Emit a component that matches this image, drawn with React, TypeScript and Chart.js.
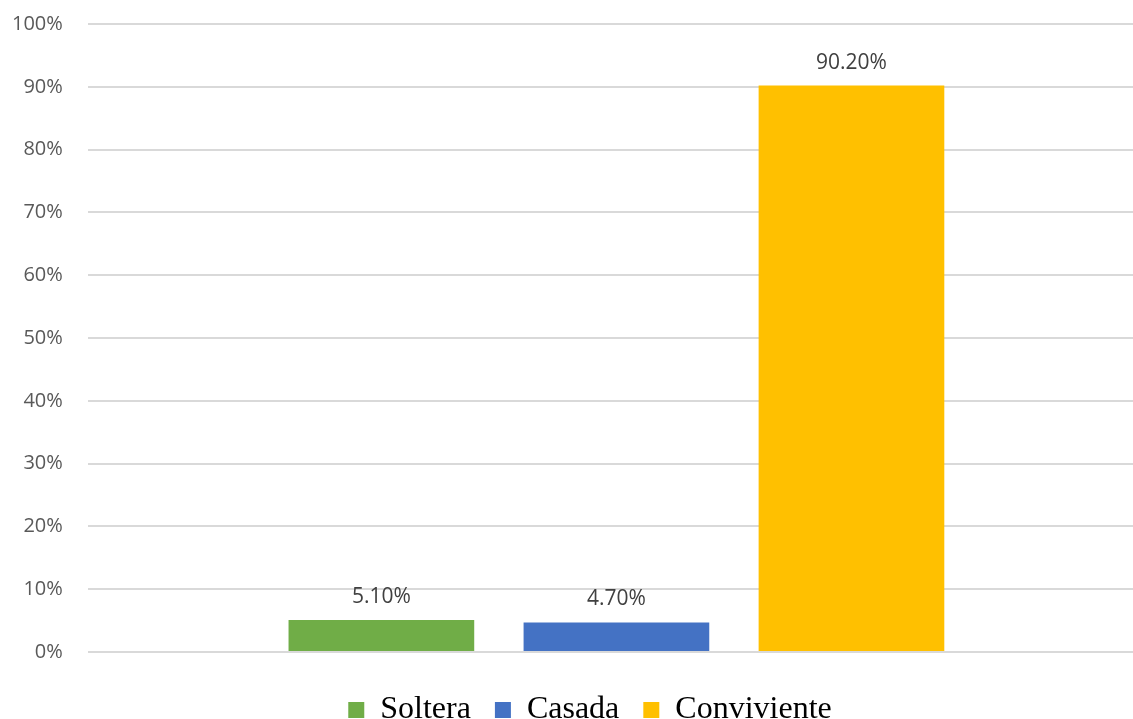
import React, { useEffect, useRef } from "react";
import { Chart, registerables } from "chart.js";

Chart.register(...registerables);

const categories = [""];
const seriesNames = ["Soltera", "Casada", "Conviviente"];
const seriesValues = [5.1, 4.7, 90.2];
const seriesColors = ["#70AD47", "#4472C4", "#FFC000"];
const yTicks = [0, 10, 20, 30, 40, 50, 60, 70, 80, 90, 100];

const LEGEND_SHIFT = 24;

const dataLabelPlugin = {
  id: "dataLabels",
  afterDatasetsDraw(chart: any) {
    const ctx = chart.ctx;
    ctx.save();
    ctx.font = "21px 'Open Sans'";
    ctx.fillStyle = "#404040";
    ctx.textAlign = "center";
    ctx.textBaseline = "middle";
    chart.data.datasets.forEach((ds: any, i: number) => {
      const meta = chart.getDatasetMeta(i);
      meta.data.forEach((el: any, j: number) => {
        const v = ds.data[j] as number;
        ctx.fillText(v.toFixed(2) + "%", el.x, el.y - 23);
      });
    });
    ctx.restore();
  },
};

const legendShiftPlugin = {
  id: "legendShift",
  afterLayout(chart: any) {
    const lg = chart.legend;
    if (lg) {
      lg.left += LEGEND_SHIFT;
      lg.right += LEGEND_SHIFT;
    }
  },
};

export default function App() {
  const ref = useRef<HTMLCanvasElement | null>(null);
  useEffect(() => {
    if (!ref.current) return;
    const chart = new Chart(ref.current, {
      type: "bar",
      data: {
        labels: categories,
        datasets: seriesNames.map((name, i) => ({
          label: name,
          data: [seriesValues[i]],
          backgroundColor: seriesColors[i],
          borderWidth: 0,
          categoryPercentage: 0.667,
          barPercentage: 0.79,
        })),
      },
      options: {
        animation: false,
        responsive: false,
        layout: { padding: { top: 0, left: 1, right: 0, bottom: 3 } },
        plugins: {
          legend: {
            position: "bottom",
            labels: {
              font: { family: "'Liberation Serif', 'Times New Roman', serif", size: 32 },
              color: "#000000",
              boxWidth: 16,
              boxHeight: 16,
              padding: 24,
            },
          },
          tooltip: { enabled: false },
        },
        scales: {
          x: {
            display: true,
            grid: { display: false, drawTicks: false },
            border: { display: false },
            ticks: { font: { size: 10 }, padding: 3, callback: () => "" },
          },
          y: {
            min: 0,
            max: 100,
            afterBuildTicks: (axis: any) => {
              axis.ticks = yTicks.map((v) => ({ value: v }));
            },
            ticks: {
              padding: 25,
              color: "#595959",
              font: { family: "'Open Sans'", size: 20 },
              callback: (v: any) => v + "%",
            },
            grid: { color: "#D9D9D9", lineWidth: 2, drawTicks: false },
            border: { display: false },
          },
        },
      },
      plugins: [dataLabelPlugin, legendShiftPlugin],
    });
    return () => chart.destroy();
  }, []);
  return (
    <div
      style={{
        position: "fixed",
        left: 0,
        top: 0,
        width: 1133,
        height: 719,
        overflow: "hidden",
        background: "#ffffff",
      }}
    >
      <canvas
        ref={ref}
        width={1159}
        height={752}
        style={{ width: 1159, height: 752, display: "block", marginLeft: -14, marginTop: -13 }}
      />
    </div>
  );
}
